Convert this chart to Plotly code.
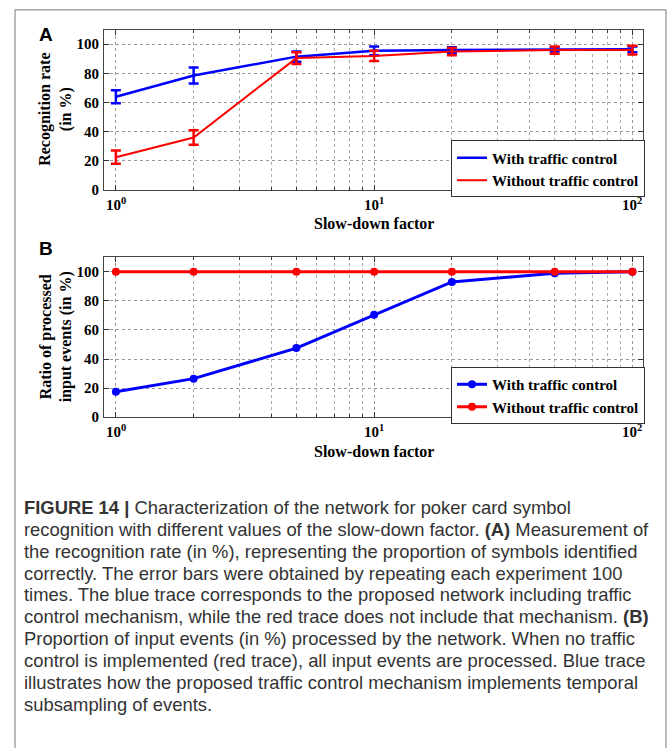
import math
import plotly.graph_objects as go

W, H = 670, 748

# ---------------- data ----------------
slowdown = [1, 2, 5, 10, 20, 50, 100]

# Panel A: recognition rate (%) with error bars
rec_with = [64, 78.5, 91.5, 95.5, 96, 96.5, 96.5]
rec_with_err = [4.5, 5.5, 3.5, 3, 2, 1.5, 2]
rec_without = [22.5, 36, 90.5, 92, 95, 96, 96]
rec_without_err = [4.5, 5, 4, 3.5, 2.5, 2.5, 3]

# Panel B: ratio of processed input events (%)
ratio_with = [17.5, 26.5, 47.5, 70.5, 93, 99, 100]
ratio_without = [100, 100, 100, 100, 100, 100, 100]

x_tickvals = [1, 10, 100]
x_ticktext = ["<b>10<sup>0</sup></b>", "<b>10<sup>1</sup></b>", "<b>10<sup>2</sup></b>"]
x_minor_tickvals = [d * 10 ** e for e in (0, 1) for d in range(2, 10)]
y_tickvals = [0, 20, 40, 60, 80, 100]
y_ticktext = ["<b>%d</b>" % v for v in y_tickvals]

series_names = ["With traffic control", "Without traffic control"]
BLUE, RED = "#0000FF", "#FF0000"

caption_lines = [
    "<b>FIGURE 14 |</b> Characterization of the network for poker card symbol",
    "recognition with different values of the slow-down factor. <b>(A)</b> Measurement of",
    "the recognition rate (in %), representing the proportion of symbols identified",
    "correctly. The error bars were obtained by repeating each experiment 100",
    "times. The blue trace corresponds to the proposed network including traffic",
    "control mechanism, while the red trace does not include that mechanism. <b>(B)</b>",
    "Proportion of input events (in %) processed by the network. When no traffic",
    "control is implemented (red trace), all input events are processed. Blue trace",
    "illustrates how the proposed traffic control mechanism implements temporal",
    "subsampling of events.",
]

# ---------------- helpers ----------------
def px(x):
    return x / W

def py(y):
    return 1 - y / H

SERIF = "Liberation Serif, Times New Roman, serif"
SANS = "Liberation Sans, Arial, sans-serif"

fig = go.Figure()

# Panel A
fig.add_trace(go.Scatter(
    x=slowdown, y=rec_with, mode="lines", name=series_names[0],
    line=dict(color=BLUE, width=2.5),
    error_y=dict(type="data", array=rec_with_err, color=BLUE, thickness=2.5, width=5),
    xaxis="x", yaxis="y", legend="legend",
))
fig.add_trace(go.Scatter(
    x=slowdown, y=rec_without, mode="lines", name=series_names[1],
    line=dict(color=RED, width=2),
    error_y=dict(type="data", array=rec_without_err, color=RED, thickness=2.5, width=5),
    xaxis="x", yaxis="y", legend="legend",
))

# Panel B
fig.add_trace(go.Scatter(
    x=slowdown, y=ratio_with, mode="lines+markers", name=series_names[0],
    line=dict(color=BLUE, width=3), marker=dict(color=BLUE, size=8),
    xaxis="x2", yaxis="y2", legend="legend2",
))
fig.add_trace(go.Scatter(
    x=slowdown, y=ratio_without, mode="lines+markers", name=series_names[1],
    line=dict(color=RED, width=3), marker=dict(color=RED, size=8),
    xaxis="x2", yaxis="y2", legend="legend2",
))

xdom = [px(104), px(643)]
ydomA = [py(192), py(30)]
ydomB = [py(421.7), py(260)]

def xaxis_cfg(anchor, dom):
    return dict(
        type="log", domain=dom, anchor=anchor, range=[-0.046, 2.041],
        tickmode="array", tickvals=x_tickvals, ticktext=x_ticktext,
        showticklabels=False,
        ticks="inside", ticklen=5, tickcolor="#333",
        showline=True, linecolor="#444", linewidth=1, mirror="ticks",
        showgrid=True, gridcolor="#999", griddash="dot", gridwidth=1,
        minor=dict(tickmode="array", tickvals=x_minor_tickvals,
                   ticks="inside", ticklen=3, tickcolor="#333",
                   showgrid=True, gridcolor="#aaa", griddash="dot", gridwidth=1),
        zeroline=False,
    )

def yaxis_cfg(anchor, dom):
    return dict(
        domain=dom, anchor=anchor, range=[0, 110],
        tickmode="array", tickvals=y_tickvals, ticktext=y_ticktext,
        ticks="inside", ticklen=5, tickcolor="#333",
        showline=True, linecolor="#444", linewidth=1, mirror="ticks",
        showgrid=True, gridcolor="#999", griddash="dot", gridwidth=1,
        tickfont=dict(family=SERIF, size=15, color="black"),
        zeroline=False, ticklabelstandoff=1,
    )

legend_common = dict(
    bgcolor="white", bordercolor="#333", borderwidth=1,
    font=dict(family=SERIF, size=15, color="black", weight="bold"),
    xanchor="left", yanchor="top", itemwidth=30, tracegroupgap=0,
)

def ann(text, x, y, size, family, color="black", **kw):
    d = dict(text=text, x=px(x), y=py(y), xref="paper", yref="paper",
             xanchor="center", yanchor="middle", showarrow=False,
             font=dict(family=family, size=size, color=color))
    d.update(kw)
    return d

annotations = [
    ann("<b>A</b>", 46, 35, 19, SANS),
    ann("<b>B</b>", 46, 251.5, 19, SANS),
    ann("<b>Recognition rate<br>(in %)</b>", 56, 111, 16, SERIF, textangle=-90),
    ann("<b>Ratio of processed<br>input events (in %)</b>", 56, 341, 16, SERIF, textangle=-90),
    ann("<b>Slow-down factor</b>", 374, 226, 16, SERIF),
    ann("<b>Slow-down factor</b>", 374, 456, 16, SERIF),
]

# x tick labels (10^n) placed at the tick values of each log axis
for xref, ypix in (("x", 206), ("x2", 436)):
    for v, t in zip(x_tickvals, x_ticktext):
        annotations.append(dict(
            text=t, x=math.log10(v), y=py(ypix), xref=xref, yref="paper",
            xanchor="center", yanchor="middle", showarrow=False,
            font=dict(family=SERIF, size=15, color="black")))

for i, line in enumerate(caption_lines):
    annotations.append(dict(
        text=line, x=px(22), y=py(513 + 22.1 * i), xref="paper", yref="paper",
        xanchor="left", yanchor="middle", align="left", showarrow=False,
        font=dict(family=SANS, size=18.4, color="#333")))

fig.update_layout(
    width=W, height=H,
    margin=dict(l=0, r=0, t=0, b=0),
    paper_bgcolor="white", plot_bgcolor="white",
    xaxis=xaxis_cfg("y", xdom),
    yaxis=yaxis_cfg("x", ydomA),
    xaxis2=xaxis_cfg("y2", xdom),
    yaxis2=yaxis_cfg("x2", ydomB),
    legend=dict(x=px(451), y=py(142), **legend_common),
    legend2=dict(x=px(451), y=py(371), **legend_common),
    annotations=annotations,
    shapes=[dict(type="rect", xref="paper", yref="paper",
                 x0=px(15), x1=px(666), y0=py(762), y1=py(10),
                 line=dict(color="#777", width=1), fillcolor="rgba(0,0,0,0)", layer="below")],
    showlegend=True,
)

fig.write_html("out.html")
